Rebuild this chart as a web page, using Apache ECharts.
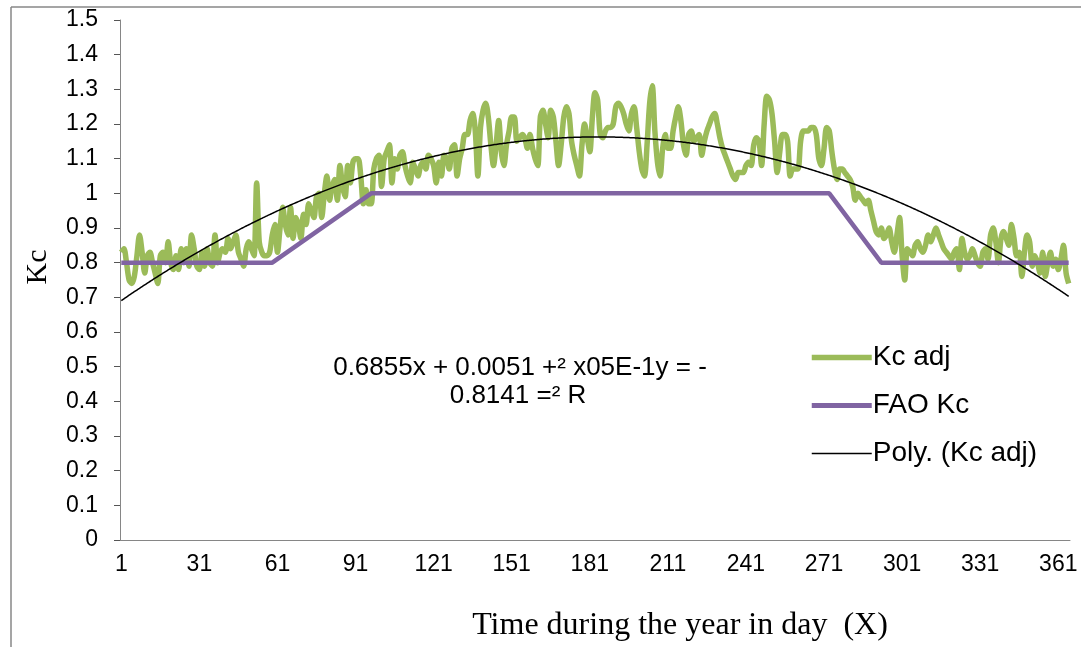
<!DOCTYPE html>
<html>
<head>
<meta charset="utf-8">
<script src="https://cdn.jsdelivr.net/npm/echarts@6/dist/echarts.min.js"></script>
<style>
html,body{margin:0;padding:0;background:#fff;}
#c{width:1081px;height:647px;}
</style>
</head>
<body>
<div id="c"></div>
<script>
// Days of the year (category axis)
const days = [];
for (let d = 1; d <= 365; d++) days.push(String(d));

// Kc adj (green), day 1..365
const kcAdj1 = [0.83,0.84,0.80,0.75,0.74,0.76,0.82,0.88,0.83,0.77,
0.82,0.83,0.80,0.77,0.74,0.82,0.83,0.80,0.86,0.80,
0.78,0.82,0.78,0.84,0.80,0.84,0.79,0.88,0.84,0.79,
0.78,0.83,0.79,0.84,0.80,0.79,0.88,0.80,0.83,0.84,
0.83,0.87,0.84,0.86,0.88,0.83,0.81,0.79,0.84,0.86,
0.84,0.82,1.03,0.86,0.83,0.82,0.82,0.83,0.88,0.91,
0.83,0.90,0.96,0.91,0.88,0.96,0.87,0.93,0.91,0.87,
0.94,0.91,0.97,0.95,0.93,0.99,1.00,0.93,1.00,1.05,
0.98,1.02,1.04,0.98,1.08,1.02,0.99,1.08,1.03,1.09];
const kcAdj2 = [1.10,1.10,1.05,0.97,1.01,0.97,0.97,1.07,1.10,1.11,
1.02,1.10,1.12,1.14,1.03,1.10,1.07,1.11,1.12,1.08,
1.05,1.03,1.09,1.07,1.05,1.08,1.09,1.07,1.11,1.10,
1.08,1.03,1.09,1.05,1.11,1.10,1.07,1.13,1.14,1.05,
1.10,1.13,1.17,1.17,1.21,1.23,1.18,1.05,1.19,1.24,
1.26,1.22,1.14,1.08,1.14,1.21,1.12,1.08,1.14,1.18,
1.22,1.22,1.15,1.16,1.17,1.16,1.13,1.17,1.13,1.10,
1.08,1.22,1.24,1.20,1.16,1.24,1.22,1.15,1.08,1.14,
1.22,1.25,1.23,1.15,1.11,1.08,1.05,1.14,1.20,1.16];
const kcAdj3 = [1.12,1.22,1.29,1.27,1.17,1.16,1.18,1.19,1.19,1.20,
1.25,1.26,1.25,1.23,1.20,1.18,1.23,1.25,1.19,1.12,
1.07,1.05,1.14,1.26,1.31,1.18,1.09,1.05,1.13,1.17,
1.13,1.13,1.18,1.22,1.25,1.21,1.14,1.11,1.17,1.18,
1.15,1.16,1.17,1.11,1.15,1.18,1.20,1.22,1.23,1.20,
1.16,1.13,1.11,1.09,1.07,1.05,1.04,1.06,1.06,1.06,
1.08,1.09,1.08,1.14,1.16,1.15,1.08,1.20,1.28,1.27,
1.23,1.15,1.06,1.12,1.17,1.17,1.15,1.05,1.07,1.07,
1.07,1.15,1.18,1.18,1.18,1.19,1.19,1.17,1.10,1.08];
const kcAdj4 = [1.13,1.19,1.18,1.12,1.07,1.04,1.07,1.07,1.06,1.05,
1.04,1.02,0.98,1.00,0.99,0.98,0.97,0.98,0.95,0.92,
0.89,0.88,0.90,0.87,0.88,0.90,0.86,0.83,0.88,0.93,
0.82,0.75,0.84,0.83,0.82,0.85,0.86,0.84,0.83,0.85,
0.88,0.86,0.88,0.90,0.88,0.86,0.84,0.83,0.82,0.81,
0.83,0.84,0.78,0.87,0.83,0.81,0.82,0.84,0.82,0.80,
0.79,0.83,0.84,0.81,0.88,0.90,0.86,0.80,0.87,0.89,
0.87,0.85,0.91,0.87,0.82,0.83,0.76,0.83,0.88,0.86,
0.79,0.82,0.80,0.77,0.83,0.76,0.80,0.83,0.79,0.81,
0.78,0.81,0.85,0.77,0.74];
const kcAdj = kcAdj1.concat(kcAdj2, kcAdj3, kcAdj4);

// FAO Kc (purple) breakpoints: day, value
const faoDays = ['1','59','97','273','293','365'];
const faoKc = [0.8, 0.8, 1.0, 1.0, 0.8, 0.8];

// Axis tick values
const yMin = 0, yMax = 1.5, yStep = 0.1;

// Equation text
const eqLine1 = '0.6855x + 0.0051 +\u00B2 x05E-1y = -';
const eqLine2 = '0.8141 =\u00B2 R';

// Polynomial (order 2) trendline: least-squares fit of Kc adj
function polyFit(ys) {
  let n = ys.length, s = [0,0,0,0,0], t = [0,0,0];
  for (let i = 0; i < n; i++) {
    const x = i + 1, y = ys[i];
    let p = 1;
    for (let k = 0; k < 5; k++) { s[k] += p; if (k < 3) t[k] += p * y; p *= x; }
  }
  const A = [[s[0],s[1],s[2],t[0]],[s[1],s[2],s[3],t[1]],[s[2],s[3],s[4],t[2]]];
  for (let i = 0; i < 3; i++) {
    for (let j = i + 1; j < 3; j++) {
      const f = A[j][i] / A[i][i];
      for (let k = i; k < 4; k++) A[j][k] -= f * A[i][k];
    }
  }
  const c = [0,0,0];
  for (let i = 2; i >= 0; i--) {
    let v = A[i][3];
    for (let k = i + 1; k < 3; k++) v -= A[i][k] * c[k];
    c[i] = v / A[i][i];
  }
  return ys.map((_, i) => { const x = i + 1; return c[0] + c[1]*x + c[2]*x*x; });
}
const polyVals = polyFit(kcAdj);

const chart = echarts.init(document.getElementById('c'));
const sans = 'Liberation Sans, Arial, sans-serif';
const serif = 'Liberation Serif, Times New Roman, serif';
chart.setOption({
  animation: false,
  backgroundColor: '#fff',
  grid: { left: 120, right: 11, top: 20, bottom: 107, containLabel: false },
  legend: {
    orient: 'vertical', left: 804, top: 337, itemGap: 17,
    itemWidth: 60, itemHeight: 14,
    itemStyle: { opacity: 0 },
    textStyle: { fontSize: 28, fontFamily: sans, color: '#000', lineHeight: 31, padding: [0,0,0,-4] },
    data: [
      { name: 'Kc adj', itemStyle: { opacity: 0 }, lineStyle: { width: 5.5, color: '#9BBB59' } },
      { name: 'FAO Kc', itemStyle: { opacity: 0 }, lineStyle: { width: 5, color: '#8064A2' } },
      { name: 'Poly. (Kc adj)', itemStyle: { opacity: 0 }, lineStyle: { width: 1.5, color: '#000' } }
    ]
  },
  xAxis: {
    type: 'category', data: days, boundaryGap: true,
    axisLine: { lineStyle: { color: '#868686', width: 1 } },
    axisTick: { interval: 0, length: 6, lineStyle: { color: '#555', width: 1 } },
    axisLabel: { interval: 29, fontSize: 23, fontFamily: sans, color: '#000', margin: 13 },
    splitLine: { show: false }
  },
  yAxis: {
    type: 'value', min: yMin, max: yMax, interval: yStep,
    axisLine: { show: true, lineStyle: { color: '#868686', width: 1 } },
    axisTick: { show: true, length: 6, lineStyle: { color: '#555' } },
    axisLabel: { fontSize: 23, fontFamily: sans, color: '#000', margin: 22,
      formatter: v => String(Math.round(v * 10) / 10) },
    splitLine: { show: false }
  },
  series: [
    { name: 'Kc adj', type: 'line', data: kcAdj, showSymbol: false, symbol: 'none',
      smooth: 0.3, lineStyle: { color: '#9BBB59', width: 5.5 }, itemStyle: { color: '#9BBB59' }, z: 2 },
    { name: 'FAO Kc', type: 'line', data: faoDays.map((d, i) => [d, faoKc[i]]), showSymbol: false, symbol: 'none',
      lineStyle: { color: '#8064A2', width: 4.5 }, itemStyle: { color: '#8064A2' }, z: 3 },
    { name: 'Poly. (Kc adj)', type: 'line', data: polyVals, showSymbol: false, symbol: 'none',
      smooth: true, lineStyle: { color: '#000', width: 1.5 }, itemStyle: { color: '#000' }, z: 4 }
  ],
  graphic: [
    { type: 'line', shape: { x1: 11, y1: 7, x2: 11, y2: 647 }, style: { stroke: '#878787', lineWidth: 1.5 } },
    { type: 'line', shape: { x1: 11, y1: 7, x2: 1081, y2: 7 }, style: { stroke: '#878787', lineWidth: 1.5 } },
    { type: 'text', x: 520, y: 368, style: { text: eqLine1, fontSize: 26, fontFamily: sans, fill: '#000', align: 'center', verticalAlign: 'middle' } },
    { type: 'text', x: 518, y: 396, style: { text: eqLine2, fontSize: 26, fontFamily: sans, fill: '#000', align: 'center', verticalAlign: 'middle' } },
    { type: 'text', x: 38, y: 267, rotation: Math.PI / 2, style: { text: 'Kc', fontSize: 30, fontFamily: serif, fill: '#000', align: 'center', verticalAlign: 'middle' } },
    { type: 'text', x: 680, y: 626, style: { text: 'Time during the year in day  (X)', fontSize: 32, fontFamily: serif, fill: '#000', align: 'center', verticalAlign: 'middle' } }
  ]
});
</script>
</body>
</html>
